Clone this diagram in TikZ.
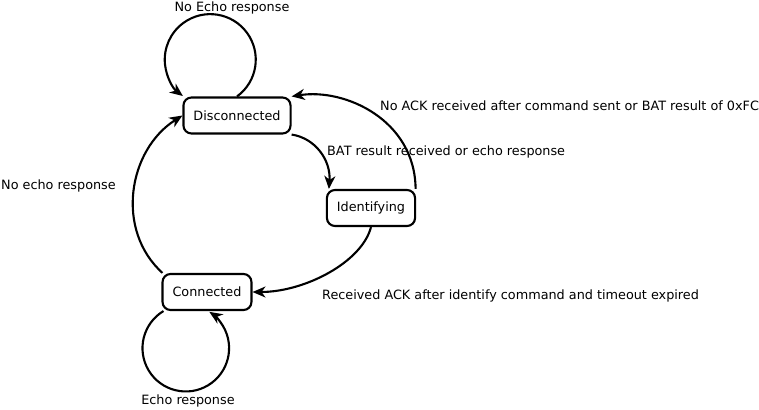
\documentclass[tikz,border=0pt]{standalone}
\usepackage{fontspec}
\setmainfont{DejaVu Sans}
\usetikzlibrary{arrows.meta}
\begin{document}
\begin{tikzpicture}[x=1pt,y=1pt,
  every node/.style={font=\fontsize{12.8}{15}\selectfont},
  state/.style={draw,line width=2.1pt,rounded corners=8pt,minimum height=36pt,inner xsep=10pt,inner ysep=0pt},
  lbl/.style={inner sep=0pt},
  conn/.style={line width=2.1pt,-{Stealth[length=13pt,width=11pt,inset=4pt]}}]
\useasboundingbox (0,0) rectangle (759,-409);
\node[state] (dis) at (237,-115.5) {Disconnected};
\node[state] (idf) at (371,-208) {Identifying};
\node[state] (con) at (207,-292) {Connected};
% labels
\node[lbl] (l1) at (232,-8) {No Echo response};
\node[lbl,anchor=west] (l2) at (380,-105.5) {No ACK received after command sent or BAT result of 0xFC};
\node[lbl,anchor=west] (l3) at (327,-152) {BAT result received or echo response};
\node[lbl,anchor=west] (l4) at (322,-295.5) {Received ACK after identify command and timeout expired};
\node[lbl,anchor=west] (l5) at (1,-186) {No echo response};
\node[lbl] (l6) at (188,-401) {Echo response};
% connectors
\draw[conn] (dis.north) arc[start angle=-54,end angle=233,radius=45.5];
\draw[conn] ([xshift=2pt]con.south west) arc[start angle=121,end angle=417,radius=43.3];
\draw[conn] (dis.south east) .. controls (315,-138) and (331,-160) .. ([xshift=3pt]idf.north west);
\draw[conn] ([xshift=-0.5pt]idf.north east) .. controls (415,-120) and (345,-88) .. (dis.north east);
\draw[conn] (idf.south) .. controls (362,-262) and (305,-292) .. (con.east);
\draw[conn] ([xshift=1pt]con.north west) .. controls (115,-230) and (128,-150) .. (dis.west);
\end{tikzpicture}
\end{document}
